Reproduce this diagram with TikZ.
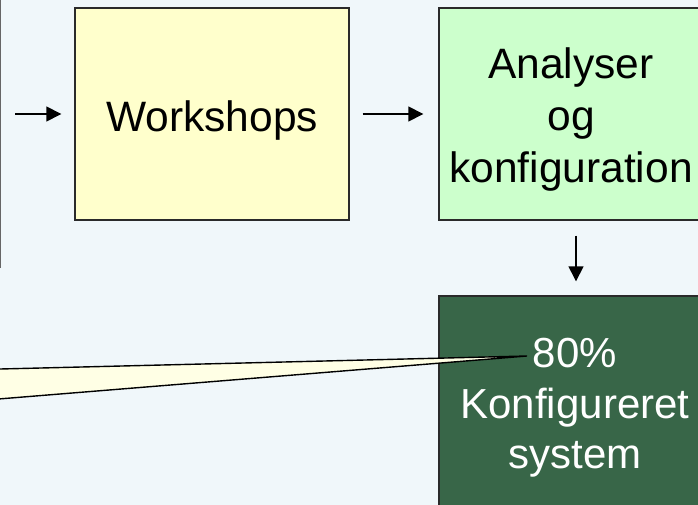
\documentclass[tikz,border=0pt]{standalone}
\usepackage{fontspec}
\setmainfont{Liberation Sans}
\usetikzlibrary{arrows.meta}
\definecolor{bgc}{HTML}{F0F7FA}
\definecolor{yelc}{HTML}{FFFFCC}
\definecolor{grnc}{HTML}{CCFFCC}
\definecolor{dgrnc}{HTML}{386648}
\definecolor{callc}{HTML}{FFFFE5}
\definecolor{edgec}{HTML}{2A2A2A}
\tikzset{
  stepbox/.style={draw=edgec, line width=1.4pt, rectangle, inner sep=0pt,
    align=center, font=\fontsize{42.5}{52}\selectfont},
  flowarrow/.style={-{Triangle[length=15pt,width=15pt]}, line width=1.5pt, black},
}
\begin{document}
\begin{tikzpicture}[x=1pt,y=-1pt]
  \useasboundingbox (0,0) rectangle (698,505);
  \clip (0,0) rectangle (698,505);
  \fill[bgc] (0,0) rectangle (698,505);
  % left box (mostly off-picture)
  \node[draw=gray!80!black, line width=1.4pt, rectangle, inner sep=0pt,
        minimum width=300pt, minimum height=300pt, anchor=south east] (leftbox) at (1,268) {};
  \node[stepbox, fill=yelc, minimum width=274pt, minimum height=212pt,
        text height=40pt, text depth=4pt] (work) at (212,114) {Workshops};
  \node[stepbox, fill=grnc, minimum width=264pt, minimum height=212pt]
        (anal) at (571,114) {\rule{0pt}{41pt}Analyser\\og\\konfiguration};
  \node[stepbox, fill=dgrnc, text=white, minimum width=272pt, minimum height=218pt,
        font=\fontsize{42}{50.5}\selectfont] (konf) at (575,405) {\rule{0pt}{35pt}80\%\\Konfigureret\\system};
  \draw[flowarrow, shorten <=14pt, shorten >=13pt] (leftbox.east |- work.west) -- (work.west);
  \draw[flowarrow, shorten <=13pt, shorten >=15pt] (work.east) -- (anal.west |- work.east);
  \draw[flowarrow, shorten <=15pt, shorten >=14pt] (anal.south -| 576,0) -- (konf.north -| 576,0);
  % callout wedge pointing at "80%"
  \coordinate (tip) at (527,356);
  \draw[line width=1.4pt, fill=callc, line join=miter] (-20,369.5) -- (tip) -- (-20,400.5);
\end{tikzpicture}
\end{document}
